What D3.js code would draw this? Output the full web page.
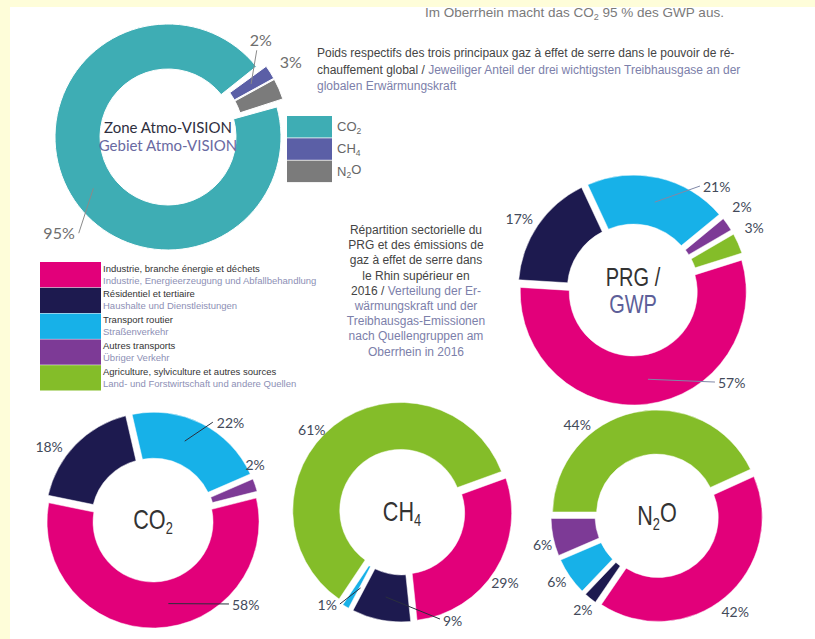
<!DOCTYPE html>
<html>
<head>
<meta charset="utf-8">
<script src="https://cdn.jsdelivr.net/npm/d3@7"></script>
<style>
body { margin: 0; background: #fefdd9; }
svg { display: block; }
</style>
</head>
<body>
<script>
"use strict";

// gas shares of the global warming potential (Zone Atmo-VISION)
var gasKeys = ["CO2", "CH4", "N2O"];
var gasValues = [95, 2, 3];
var gasColors = ["#3eadb4", "#5b5fa6", "#7b7b7b"];

// emission sectors
var sectorFr = [
    "Industrie, branche énergie et déchets",
    "Résidentiel et tertiaire",
    "Transport routier",
    "Autres transports",
    "Agriculture, sylviculture et autres sources"
];
var sectorDe = [
    "Industrie, Energieerzeugung und Abfallbehandlung",
    "Haushalte und Dienstleistungen",
    "Straßenverkehr",
    "Übriger Verkehr",
    "Land- und Forstwirtschaft und andere Quellen"
];
var sectorColors = ["#e2007a", "#1d1a4f", "#17b1e8", "#7d3a96", "#84bd29"];

// sector shares per donut, listed clockwise (index into sector arrays)
var prgSectors = [2, 3, 4, 0, 1];
var prgValues = [21, 2, 3, 57, 17];
var co2Sectors = [2, 3, 0, 1];
var co2Values = [22, 2, 58, 18];
var ch4Sectors = [0, 1, 2, 4];
var ch4Values = [29, 9, 1, 61];
var n2oSectors = [4, 0, 1, 2, 3];
var n2oValues = [44, 42, 2, 6, 6];

var width = 815, height = 639;
var darkText = "#444", deText = "#7c80aa", pctText = "#434a5a";

function rad(deg) { return deg * Math.PI / 180; }
function polar(deg, r) { return [Math.sin(rad(deg)) * r, -Math.cos(rad(deg)) * r]; }
function translate(x, y) { return "translate(" + x + "," + y + ")"; }

var svg = d3.select("body").append("svg")
    .attr("width", width)
    .attr("height", height);

// white page on yellow frame
svg.append("rect").attr("x", 10).attr("y", 0).attr("width", width - 10).attr("height", height)
    .attr("fill", "#ffffff");

// top sentence (cut by the frame)
var top_line = svg.append("text")
    .attr("x", 425).attr("y", 17)
    .attr("font-family", "Liberation Sans, Arial, sans-serif")
    .attr("font-size", 13.5)
    .attr("fill", "#7a7a7a");
top_line.append("tspan").text("Im Oberrhein macht das CO");
top_line.append("tspan").attr("font-size", 9).attr("dy", 3).text("2");
top_line.append("tspan").attr("dy", -3).text(" 95 % des GWP aus.");

svg.append("rect").attr("x", 0).attr("y", 0).attr("width", width).attr("height", 7)
    .attr("fill", "#fefdd9");

// text with digits as subscripts (CO2 -> CO₂)
function chem_text(sel, key, subSize) {
    key.split(/(\d)/).forEach(function(part, i) {
        if(part === "") return;
        if(i % 2 === 1) {
            sel.append("tspan").attr("font-size", subSize).attr("dy", "0.3em").text(part);
        } else {
            sel.append("tspan").attr("dy", i > 0 ? "-0.3em" : null).text(part);
        }
    });
}

function draw_donut(chart, values, colors) {
    var pie = d3.pie().sort(null).value(function(d) { return d; })
        .startAngle(rad(chart.start))
        .endAngle(rad(chart.start + 360))
        .padAngle(chart.pad);
    var arcs = pie(values);
    if(chart.trim) {
        arcs.forEach(function(d, i) {
            d.startAngle += chart.trim[i];
            d.endAngle -= chart.trim[i];
        });
    }
    var arc = d3.arc()
        .innerRadius(chart.rIn)
        .outerRadius(chart.rOut)
        .padRadius(chart.rOut);

    function explode(i) {
        return Array.isArray(chart.explode) ? chart.explode[i] : chart.explode;
    }

    var g = svg.append("g").attr("transform", translate(chart.cx, chart.cy));
    g.selectAll("path.slice")
        .data(arcs)
        .enter()
        .append("path")
        .attr("class", "slice")
        .attr("d", arc)
        .attr("fill", function(d, i) { return colors[i]; })
        .attr("stroke", "#fff")
        .attr("stroke-width", chart.stroke)
        .attr("transform", function(d, i) {
            var a = (d.startAngle + d.endAngle) / 2 * 180 / Math.PI;
            var p = polar(a, explode(i));
            return translate(p[0], p[1]);
        });

    // value labels with optional leader lines
    var rMid = (chart.rIn + chart.rOut) / 2;
    chart.labels.forEach(function(lb) {
        var p = polar(lb.ang, lb.dist);
        if(lb.lead !== undefined) {
            var q = polar(lb.lead, rMid + explode(lb.i));
            g.append("line")
                .attr("x1", p[0] + lb.from[0]).attr("y1", p[1] + lb.from[1])
                .attr("x2", q[0]).attr("y2", q[1])
                .attr("stroke", chart.leadColor)
                .attr("stroke-width", 1);
        }
        g.append("text")
            .attr("x", p[0]).attr("y", p[1])
            .attr("dy", "0.35em")
            .attr("text-anchor", lb.anchor || "middle")
            .attr("font-family", "Lato, sans-serif")
            .attr("font-size", chart.labelSize)
            .attr("fill", chart.labelColor)
            .text(values[lb.i] + "%");
    });
    return g;
}

// ---- gas donut
var gasChart = {
    cx: 168, cy: 137, rOut: 113, rIn: 68, start: 72, pad: 0, stroke: 1,
    trim: [0.045, 0, 0], explode: [0, 8, 8],
    labelSize: 16, labelColor: "#6e6e6e", leadColor: "#8a8a8a",
    labels: [
        { i: 1, ang: 43.8, dist: 134, lead: 57.5, from: [-4, 10] },
        { i: 2, ang: 58.6, dist: 144 },
        { i: 0, ang: 224.1, dist: 134, anchor: "end", lead: 235.5, from: [4, 0] }
    ]
};
var gasG = draw_donut(gasChart, gasValues, gasColors);
gasG.append("text")
    .attr("y", -4).attr("text-anchor", "middle")
    .attr("font-family", "Lato, sans-serif").attr("font-size", 15)
    .attr("fill", "#2e2e3e")
    .text("Zone Atmo-VISION");
gasG.append("text")
    .attr("y", 14).attr("text-anchor", "middle")
    .attr("font-family", "Lato, sans-serif").attr("font-size", 15)
    .attr("fill", "#6a6aa2")
    .text("Gebiet Atmo-VISION");

// gas legend
var gasLegend = svg.append("g").attr("transform", translate(287, 116));
gasKeys.forEach(function(key, i) {
    gasLegend.append("rect")
        .attr("x", 0).attr("y", i * 22.3)
        .attr("width", 45).attr("height", 21.5)
        .attr("fill", gasColors[i]);
    var t = gasLegend.append("text")
        .attr("x", 50).attr("y", i * 22.3 + 15)
        .attr("font-family", "Liberation Sans, Arial, sans-serif")
        .attr("font-size", 13)
        .attr("fill", "#666");
    chem_text(t, key, 8.5);
});

// gas description
var gasDesc = [
    [["Poids respectifs des trois principaux gaz à effet de serre dans le pouvoir de ré-", darkText]],
    [["chauffement global / ", darkText], ["Jeweiliger Anteil der drei wichtigsten Treibhausgase an der", deText]],
    [["globalen Erwärmungskraft", deText]]
];
gasDesc.forEach(function(line, j) {
    var t = svg.append("text")
        .attr("x", 317).attr("y", 57 + j * 16.5)
        .attr("font-family", "Liberation Sans, Arial, sans-serif")
        .attr("font-size", 12);
    line.forEach(function(part) {
        t.append("tspan").attr("fill", part[1]).text(part[0]);
    });
});

// ---- sector legend
var secLegend = svg.append("g").attr("transform", translate(40, 262));
sectorFr.forEach(function(name, i) {
    var y = i * 25.8;
    secLegend.append("rect")
        .attr("x", 0).attr("y", y)
        .attr("width", 61).attr("height", 25.3)
        .attr("fill", sectorColors[i]);
    secLegend.append("text")
        .attr("x", 63).attr("y", y + 9.5)
        .attr("font-family", "Liberation Sans, Arial, sans-serif")
        .attr("font-size", 9.5)
        .attr("fill", "#333")
        .text(name);
    secLegend.append("text")
        .attr("x", 63).attr("y", y + 21.5)
        .attr("font-family", "Liberation Sans, Arial, sans-serif")
        .attr("font-size", 9.5)
        .attr("fill", "#8d8fb5")
        .text(sectorDe[i]);
});

// ---- centre description
var midDesc = [
    [["Répartition sectorielle du", darkText]],
    [["PRG et des émissions de", darkText]],
    [["gaz à effet de serre dans", darkText]],
    [["le Rhin supérieur en", darkText]],
    [["2016 / ", darkText], ["Verteilung der Er-", deText]],
    [["wärmungskraft und der", deText]],
    [["Treibhausgas-Emissionen", deText]],
    [["nach Quellengruppen am", deText]],
    [["Oberrhein in 2016", deText]]
];
midDesc.forEach(function(line, j) {
    var t = svg.append("text")
        .attr("x", 416).attr("y", 234 + j * 15.2)
        .attr("text-anchor", "middle")
        .attr("font-family", "Liberation Sans, Arial, sans-serif")
        .attr("font-size", 12);
    line.forEach(function(part) {
        t.append("tspan").attr("fill", part[1]).text(part[0]);
    });
});

function sector_colors(order) {
    return order.map(function(k) { return sectorColors[k]; });
}

function center_title(g, key, dy) {
    var t = g.append("text")
        .attr("transform", translate(0, dy) + " scale(0.8,1)")
        .attr("text-anchor", "middle")
        .attr("font-family", "Liberation Sans, Arial, sans-serif")
        .attr("font-size", 27)
        .attr("fill", "#333");
    chem_text(t, key, 16);
}

var donutStyle = { pad: 0.04, stroke: 0.5, explode: 2, labelSize: 14,
                   labelColor: pctText, leadColor: "#2a2f3d" };

// ---- PRG / GWP donut
var prgChart = Object.assign({}, donutStyle, {
    cx: 633, cy: 290, rOut: 113, rIn: 64, start: -25,
    leadColor: "#8088a8",
    labels: [
        { i: 4, ang: -58.1, dist: 134 },
        { i: 0, ang: 34.2, dist: 124.5, anchor: "start", lead: 13.9, from: [-3, -1] },
        { i: 1, ang: 52.7, dist: 137 },
        { i: 2, ang: 62.9, dist: 136 },
        { i: 3, ang: 137.6, dist: 126, anchor: "start", lead: 170.5, from: [-3, -1] }
    ]
});
var prgG = draw_donut(prgChart, prgValues, sector_colors(prgSectors));
prgG.append("text")
    .attr("transform", translate(0, -4) + " scale(0.8,1)")
    .attr("text-anchor", "middle")
    .attr("font-family", "Liberation Sans, Arial, sans-serif")
    .attr("font-size", 25).attr("fill", "#333")
    .text("PRG /");
prgG.append("text")
    .attr("transform", translate(0, 23) + " scale(0.8,1)")
    .attr("text-anchor", "middle")
    .attr("font-family", "Liberation Sans, Arial, sans-serif")
    .attr("font-size", 25).attr("fill", "#5d5f99")
    .text("GWP");

// ---- CO2 donut
var co2Chart = Object.assign({}, donutStyle, {
    cx: 153, cy: 520, rOut: 106, rIn: 60, start: -13,
    labels: [
        { i: 0, ang: 33.4, dist: 116, anchor: "start", lead: 21.9, from: [-4, -1] },
        { i: 3, ang: -54.9, dist: 127 },
        { i: 1, ang: 61.7, dist: 116 },
        { i: 2, ang: 137.1, dist: 116, anchor: "start", lead: 169.6, from: [-3, -1] }
    ]
});
var co2G = draw_donut(co2Chart, co2Values, sector_colors(co2Sectors));
center_title(co2G, "CO2", 9);

// ---- CH4 donut
var ch4Chart = Object.assign({}, donutStyle, {
    cx: 402, cy: 512, rOut: 108, rIn: 61, start: 70,
    labels: [
        { i: 3, ang: -47.7, dist: 122 },
        { i: 0, ang: 124.6, dist: 125 },
        { i: 2, ang: 215, dist: 113.5, anchor: "end", lead: 208.6, from: [3, -1] },
        { i: 1, ang: 159.4, dist: 116.5, anchor: "start", lead: 190.9, from: [-3, -2] }
    ]
});
var ch4G = draw_donut(ch4Chart, ch4Values, sector_colors(ch4Sectors));
center_title(ch4G, "CH4", 9);

// ---- N2O donut
var n2oChart = Object.assign({}, donutStyle, {
    cx: 657, cy: 516, rOut: 104, rIn: 60, start: -90,
    labels: [
        { i: 0, ang: -41.3, dist: 121 },
        { i: 1, ang: 140.9, dist: 124 },
        { i: 2, ang: 218.2, dist: 120 },
        { i: 3, ang: 236.6, dist: 120 },
        { i: 4, ang: 255.7, dist: 118 }
    ]
});
var n2oG = draw_donut(n2oChart, n2oValues, sector_colors(n2oSectors));
center_title(n2oG, "N2O", 9);

// yellow frame on the left
svg.append("rect").attr("x", 0).attr("y", 0).attr("width", 10).attr("height", height)
    .attr("fill", "#fefdd9");
</script>
</body>
</html>
